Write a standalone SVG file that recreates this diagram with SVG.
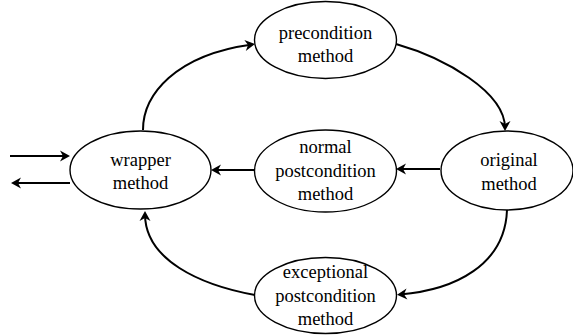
<svg xmlns="http://www.w3.org/2000/svg" width="573" height="335" viewBox="0 0 573 335">
  <style>
    .node ellipse { fill: #ffffff; stroke: #000000; stroke-width: 1.4; }
    .node text { font-size: 18.5px; fill: #000000; text-anchor: middle; }
    .edge { fill: none; stroke: #000000; stroke-width: 2; marker-end: url(#arrow); }
  </style>
  <defs>
    <marker id="arrow" markerUnits="userSpaceOnUse" viewBox="-10 -7 14 14" refX="0" refY="0" markerWidth="14" markerHeight="14" orient="auto" overflow="visible">
      <path d="M3,0 L-7,-5.5 L-4,0 L-7,5.5 Z" fill="#000000"/>
    </marker>
  </defs>
  <rect width="573" height="335" fill="#ffffff"/>

  <g id="connectors">
    <path class="edge" d="M10,156 H67"/>
    <path class="edge" d="M70,183 H14"/>
    <path class="edge" d="M254,170 H214"/>
    <path class="edge" d="M440,169 H399"/>
    <path class="edge" d="M143,130 C143,95 175,55 252,44.5"/>
    <path class="edge" d="M396,44 C445,58 505,92 505,128"/>
    <path class="edge" d="M507,210 C505,265 455,290 400,294.5"/>
    <path class="edge" d="M255,295 C200,285 145,260 145,214"/>
  </g>

  <g font-family="Liberation Serif, Times New Roman, serif">
    <g id="wrapper" class="node">
      <ellipse cx="140.5" cy="170" rx="70.5" ry="39"/>
      <text x="140.5" y="165.5">wrapper</text>
      <text x="140.5" y="189">method</text>
    </g>
    <g id="precondition" class="node">
      <ellipse cx="325.5" cy="40" rx="71" ry="38.5"/>
      <text x="325.5" y="38.5">precondition</text>
      <text x="325.5" y="62">method</text>
    </g>
    <g id="original" class="node">
      <ellipse cx="507" cy="170.5" rx="66" ry="39.5"/>
      <text x="509" y="166">original</text>
      <text x="509" y="189.5">method</text>
    </g>
    <g id="normal-postcondition" class="node">
      <ellipse cx="325.5" cy="171" rx="71" ry="41"/>
      <text x="325.5" y="153">normal</text>
      <text x="325.5" y="176.5">postcondition</text>
      <text x="325.5" y="200">method</text>
    </g>
    <g id="exceptional-postcondition" class="node">
      <ellipse cx="325.5" cy="295.5" rx="71" ry="38"/>
      <text x="325.5" y="278">exceptional</text>
      <text x="325.5" y="301.5">postcondition</text>
      <text x="325.5" y="325">method</text>
    </g>
  </g>
</svg>
